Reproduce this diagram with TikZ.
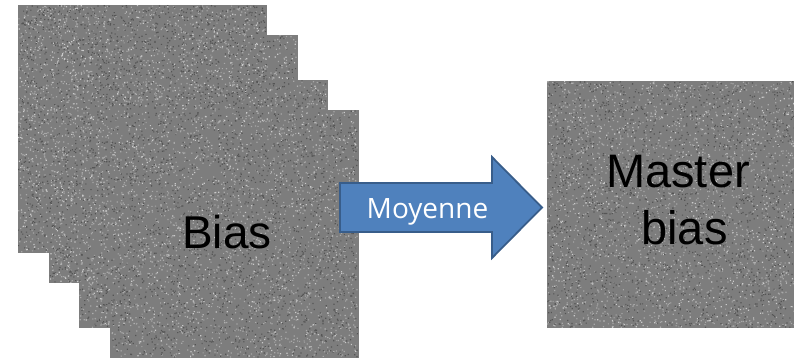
\documentclass[tikz,border=0pt]{standalone}
\usepackage{fontspec}
\setmainfont{Liberation Sans}
\newfontfamily\moyfont{Open Sans}
\definecolor{noisebase}{HTML}{7D7D7D}
\definecolor{noiselight}{HTML}{A8A8A8}
\definecolor{noisewhite}{HTML}{CACACA}
\definecolor{noisedark}{HTML}{555555}
\definecolor{arrowfill}{HTML}{4F81BD}
\definecolor{arrowline}{HTML}{385D8A}
\newcommand{\speckrun}[6]{% color, chunks, x0, y0, w, h
  \foreach \c in {1,...,#2}{%
    \fill[#1] \foreach \k in {1,...,100}{({#3+rnd*(#5-1.2)},{#4+rnd*(#6-1.2)}) rectangle ++(1.2,1.2)};}}
\newcommand{\noisearea}[4]{% x0, y0, w, h (lower left corner)
  \pgfmathtruncatemacro\noiseNL{#3/100*#4*0.034+1}%
  \pgfmathtruncatemacro\noiseND{#3/100*#4*0.029+1}%
  \pgfmathtruncatemacro\noiseNW{#3/100*#4*0.011+1}%
  \speckrun{noiselight}{\noiseNL}{#1}{#2}{#3}{#4}%
  \speckrun{noisewhite}{\noiseNW}{#1}{#2}{#3}{#4}%
  \speckrun{noisedark}{\noiseND}{#1}{#2}{#3}{#4}}
\tikzset{
  noisebox/.style={rectangle, inner sep=0pt, fill=noisebase, minimum width=249pt, minimum height=248pt},
  bigtext/.style={inner sep=0pt, font=\fontsize{46}{57}\selectfont, text=black},
  arrowshape/.style={fill=arrowfill, draw=arrowline, line width=1.8pt, line join=miter},
}
\begin{document}
\begin{tikzpicture}[x=1pt,y=1pt]
\pgfmathsetseed{4242}
\useasboundingbox (0,0) rectangle (794,357);
\node[noisebox] (b1) at (142.5,228) {};
\noisearea{18}{322}{249}{30}
\noisearea{18}{104}{31}{218}
\node[noisebox] (b2) at (173,198) {};
\noisearea{49}{277}{248}{45}
\noisearea{49}{74}{30}{203}
\node[noisebox] (b3) at (203,153) {};
\noisearea{79}{247}{248}{30}
\noisearea{79}{29}{31}{218}
\node[noisebox] (b4) at (234,123) {};
\noisearea{110}{-1}{248}{248}
\node[noisebox, minimum width=248pt, minimum height=247pt] (master) at (671,152.5) {};
\noisearea{547}{29}{248}{247}
\node[bigtext, anchor=base west] (bias) at (182,109) {Bias};
\node[bigtext, font=\fontsize{47}{57}\selectfont, align=center, anchor=north] (mtext) at (684.5,202) {Master\kern13pt\\bias};
\coordinate (a1) at (340,174);
\coordinate (a2) at (492,174);
\coordinate (a3) at (492,200);
\coordinate (a4) at (542,149.5);
\coordinate (a5) at (492,99);
\coordinate (a6) at (492,125);
\coordinate (a7) at (340,125);
\draw[arrowshape] (a1) -- (a2) -- (a3) -- (a4) -- (a5) -- (a6) -- (a7) -- cycle;
\node[inner sep=0pt, text=white, font=\moyfont\fontsize{28}{32}\selectfont, anchor=base] (moy) at (427.5,139) {Moyenne};
\end{tikzpicture}
\end{document}
